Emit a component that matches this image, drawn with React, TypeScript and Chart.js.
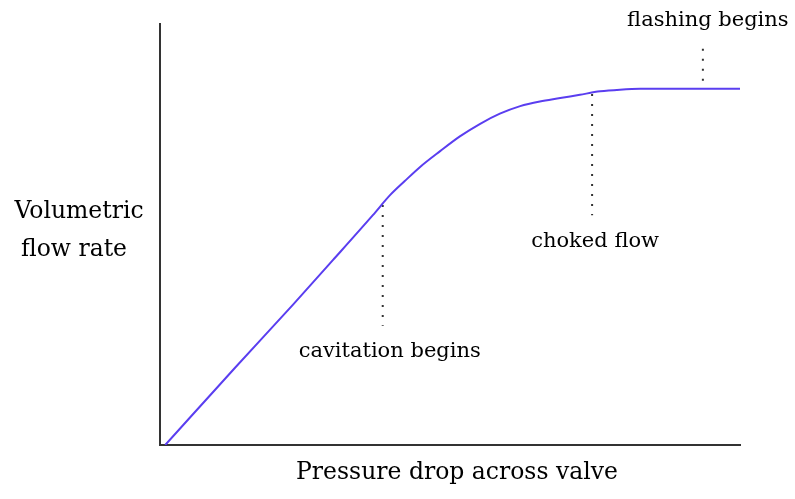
import React, { useEffect, useRef } from "react";
import { Chart, registerables } from "chart.js";

Chart.register(...registerables);

// Flow-rate curve (x: pressure drop, y: volumetric flow rate), arbitrary units 0..100
const curveX = [0.9, 12.9, 22.9, 29.8, 36.7, 39.7, 42.2, 44.8, 48.3, 51.7, 55.2, 58.6, 62.1, 65.5, 69.0, 72.4, 75.9, 79.3, 82.8, 100];
const curveY = [0, 18.3, 33.3, 43.9, 54.6, 59.4, 62.7, 66.0, 69.8, 73.3, 76.3, 78.7, 80.5, 81.6, 82.4, 83.2, 84.0, 84.4, 84.6, 84.6];

// Dotted marker lines
const markerLabels = ["cavitation begins", "choked flow", "flashing begins"];
const markerX = [38.4, 74.5, 93.6];
const markerYTop = [57.0, 83.4, 94.1];
const markerYBottom = [28.3, 54.6, 84.6];
const markerLabelSide = ["below", "below", "above"];

const yAxisLabel = ["Volumetric", "flow rate"];
const xAxisLabel = "Pressure drop across valve";

const AXIS_FONT = '23.5px "DejaVu Serif", serif';
const NOTE_FONT = '21px "DejaVu Serif", serif';

const textPlugin = {
  id: "textPlugin",
  afterDraw(chart: any) {
    const { ctx, scales, chartArea } = chart;
    const xs = scales.x;
    const ys = scales.y;
    ctx.save();
    ctx.fillStyle = "#000";
    ctx.textBaseline = "middle";
    ctx.textAlign = "center";
    ctx.font = NOTE_FONT;
    markerLabels.forEach((label, i) => {
      const px = xs.getPixelForValue(markerX[i]);
      if (markerLabelSide[i] === "below") {
        const py = ys.getPixelForValue(markerYBottom[i]);
        ctx.fillText(label, px + (i === 0 ? 7 : 3), py + 26);
      } else {
        const py = ys.getPixelForValue(markerYTop[i]);
        ctx.fillText(label, px + 5, py - 28);
      }
    });
    ctx.font = AXIS_FONT;
    ctx.fillText(xAxisLabel, (chartArea.left + chartArea.right) / 2 + 7, chartArea.bottom + 28);
    ctx.fillText(yAxisLabel[0], 79, 212);
    ctx.fillText(yAxisLabel[1], 74, 250);
    ctx.restore();
  },
};

export default function App() {
  const ref = useRef<HTMLCanvasElement | null>(null);
  useEffect(() => {
    if (!ref.current) return;
    const datasets: any[] = [
      {
        data: curveX.map((x, i) => ({ x, y: curveY[i] })),
        borderColor: "#5a3ef0",
        borderWidth: 2,
        pointRadius: 0,
        cubicInterpolationMode: "monotone",
      },
    ];
    markerX.forEach((x, i) => {
      datasets.push({
        data: [
          { x, y: markerYTop[i] },
          { x, y: markerYBottom[i] },
        ],
        borderColor: "#333",
        borderWidth: 2,
        borderDash: [2, 8],
        pointRadius: 0,
      });
    });
    const axis = {
      type: "linear",
      min: 0,
      max: 100,
      grid: { display: false, drawTicks: false, tickLength: 0 },
      ticks: { display: false, padding: 0 },
      border: { display: true, color: "#333", width: 2 },
    };
    const chart = new Chart(ref.current, {
      type: "line",
      data: { datasets },
      options: {
        animation: false,
        responsive: false,
        devicePixelRatio: 1,
        layout: { padding: { left: 160, top: 24, right: 55, bottom: 54 } },
        plugins: { legend: { display: false }, tooltip: { enabled: false } },
        scales: { x: { ...axis }, y: { ...axis } } as any,
      },
      plugins: [textPlugin],
    });
    return () => chart.destroy();
  }, []);
  return (
    <div style={{ position: "fixed", left: 0, top: 0, width: 795, height: 499, background: "#fff" }}>
      <canvas ref={ref} width={795} height={499} style={{ display: "block" }} />
    </div>
  );
}
